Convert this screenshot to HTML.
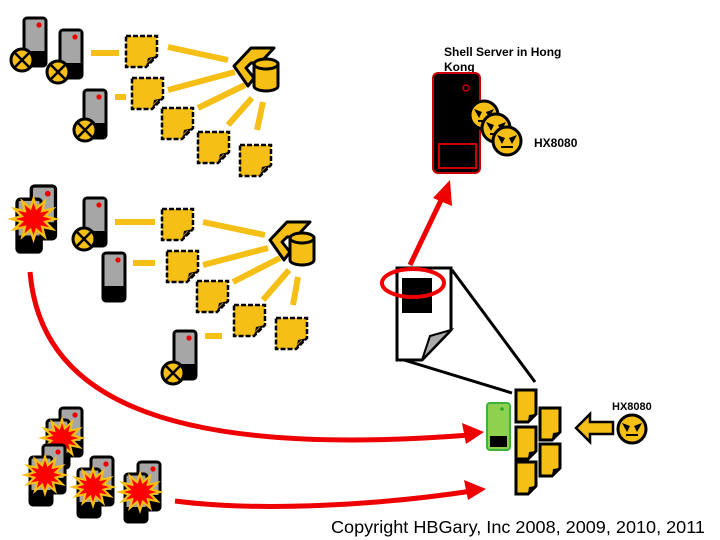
<!DOCTYPE html>
<html><head><meta charset="utf-8"><style>
html,body{margin:0;padding:0;background:#fff}
svg{display:block}
text{font-family:"Liberation Sans",sans-serif}
</style></head><body>
<svg width="720" height="540" viewBox="0 0 720 540" xmlns="http://www.w3.org/2000/svg">
<defs>
<g id="srv">
<rect x="0" y="0" width="22" height="48" rx="3" fill="#a6a6a6" stroke="#000" stroke-width="3"/>
<rect x="1" y="33" width="20" height="14" fill="#000"/>
<circle cx="15" cy="7" r="2.6" fill="#e00"/>
</g>
<g id="xc">
<circle cx="0" cy="0" r="11" fill="#f5bf16" stroke="#000" stroke-width="3"/>
<path d="M-7,-7L7,7M7,-7L-7,7" stroke="#000" stroke-width="2.5"/>
</g>
<g id="doc">
<path d="M0,0H31V20L20,31H0Z" fill="#f5bf16" stroke="#000" stroke-width="2.5" stroke-dasharray="5,2"/>
<path d="M31,20L20,31L22,22Z" fill="#000"/>
<path d="M21,27L26,22" stroke="#b08020" stroke-width="1"/>
</g>
<g id="star">
<polygon fill="#f5bf16" points="20,0 10.6,2.8 17.3,10 7.8,7.8 10,17.3 2.8,10.6 0,20 -2.8,10.6 -10,17.3 -7.8,7.8 -17.3,10 -10.6,2.8 -20,0 -10.6,-2.8 -17.3,-10 -7.8,-7.8 -10,-17.3 -2.8,-10.6 0,-20 2.8,-10.6 10,-17.3 7.8,-7.8 17.3,-10 10.6,-2.8"/>
<polygon fill="#f00" transform="scale(0.68)" points="20,0 10.6,2.8 17.3,10 7.8,7.8 10,17.3 2.8,10.6 0,20 -2.8,10.6 -10,17.3 -7.8,7.8 -17.3,10 -10.6,2.8 -20,0 -10.6,-2.8 -17.3,-10 -7.8,-7.8 -10,-17.3 -2.8,-10.6 0,-20 2.8,-10.6 10,-17.3 7.8,-7.8 17.3,-10 10.6,-2.8"/>
</g>
<g id="boom">
<use href="#srv" x="13" y="0"/>
<use href="#srv" x="0" y="12"/>
<g transform="translate(15,30) scale(1.2,1.1)"><use href="#star"/></g>
</g>
<g id="db">
<path d="M0,18L17,0H40L26,15H17L12,20L20,30L14,38Z" fill="#f5bf16" stroke="#000" stroke-width="3" stroke-linejoin="round"/>
<path d="M20,16V38A12,5 0 0 0 44,38V16Z" fill="#f5bf16" stroke="#000" stroke-width="3"/>
<ellipse cx="32" cy="16" rx="12" ry="5" fill="#f5bf16" stroke="#000" stroke-width="3"/>
</g>
<g id="smile">
<circle cx="0" cy="0" r="14" fill="#f5bf16" stroke="#000" stroke-width="3"/>
<path d="M-10,-6L-2,-3L-5,3Z M10,-6L2,-3L5,3Z" fill="#000"/>
<path d="M-6,6H6" stroke="#000" stroke-width="2"/>
</g>
<g id="ydoc">
<path d="M0,0H20V24L12,32H0Z" fill="#f5bf16" stroke="#000" stroke-width="3"/>
<path d="M20,24L12,32L13,25Z" fill="#000"/>
</g>
</defs>

<g stroke="#f5bf16" stroke-width="6">
<path d="M91,53H119M115,97H126M168,47L228,60M168,90L235,72M198,108L245,85M228,125L252,98M257,130L263,102"/>
<path d="M115,222H155M133,263H155M203,222L265,235M203,265L268,248M233,282L280,258M263,300L289,270M293,305L298,277M205,336H222"/>
</g>
<use href="#srv" x="24" y="18"/><use href="#xc" x="22" y="60"/>
<use href="#srv" x="60" y="30"/><use href="#xc" x="58" y="72"/>
<use href="#srv" x="84" y="90"/><use href="#xc" x="85" y="130"/>
<use href="#doc" x="126" y="36"/><use href="#doc" x="132" y="78"/><use href="#doc" x="162" y="108"/><use href="#doc" x="198" y="132"/><use href="#doc" x="240" y="145"/>
<use href="#db" x="234" y="48"/>

<g transform="translate(17,186) scale(1.1)"><use href="#boom"/></g>
<use href="#srv" x="84" y="198"/><use href="#xc" x="84" y="239"/>
<use href="#srv" x="103" y="253"/>
<use href="#doc" x="162" y="209"/><use href="#doc" x="167" y="251"/><use href="#doc" x="197" y="281"/><use href="#doc" x="234" y="305"/><use href="#doc" x="276" y="318"/>
<use href="#db" x="270" y="222"/>
<use href="#srv" x="174" y="331"/><use href="#xc" x="173" y="373"/>

<use href="#boom" x="47" y="408"/>
<use href="#boom" x="30" y="445"/>
<use href="#boom" x="78" y="457"/>
<use href="#boom" x="125" y="462"/>

<path d="M30,272C40,390 150,460 470,435" fill="none" stroke="#e00" stroke-width="5"/>
<polygon points="484,432 462,423 466,444" fill="#e00"/>
<path d="M175,501C260,512 380,505 472,491" fill="none" stroke="#e00" stroke-width="5"/>
<polygon points="486,489 464,480 468,500" fill="#e00"/>

<text x="444" y="56" font-size="12" font-weight="bold">Shell Server in Hong</text>
<text x="444" y="71" font-size="12" font-weight="bold">Kong</text>
<rect x="433" y="73" width="47" height="100" rx="5" fill="#000" stroke="#c00" stroke-width="2"/>
<circle cx="466" cy="88" r="3" fill="none" stroke="#c00" stroke-width="1.5"/>
<rect x="439" y="144" width="37" height="24" fill="none" stroke="#c00" stroke-width="2"/>
<use href="#smile" x="484" y="115"/><use href="#smile" x="496" y="128"/><use href="#smile" x="507" y="141"/>
<text x="534" y="147" font-size="12" font-weight="bold">HX8080</text>

<path d="M410,265L443,196" stroke="#e00" stroke-width="5"/>
<polygon points="450,180 433,198 452,206" fill="#e00"/>

<path d="M452,270L535,382M404,360L512,393" stroke="#000" stroke-width="3"/>
<path d="M397,268H451V330L422,360H397Z" fill="#fff" stroke="#000" stroke-width="3"/>
<path d="M451,330L422,360L430,336Z" fill="#aaa" stroke="#000" stroke-width="2"/>
<rect x="402" y="278" width="30" height="35" fill="#000"/>
<ellipse cx="413" cy="283" rx="31" ry="14" fill="none" stroke="#e00" stroke-width="4"/>

<rect x="487" y="403" width="23" height="47" rx="3" fill="#8fd14f" stroke="#3cb43c" stroke-width="2"/>
<rect x="490" y="436" width="17" height="11" fill="#000"/>
<circle cx="502" cy="409" r="1.8" fill="#2a2"/>
<use href="#ydoc" x="516" y="390"/><use href="#ydoc" x="516" y="427"/><use href="#ydoc" x="516" y="462"/>
<use href="#ydoc" x="540" y="408"/><use href="#ydoc" x="540" y="444"/>
<polygon points="576,428 590,414 590,422 613,422 613,434 590,434 590,442" fill="#f5bf16" stroke="#000" stroke-width="2.5"/>
<use href="#smile" x="632" y="429"/>
<text x="612" y="410" font-size="11" font-weight="bold">HX8080</text>

<text x="331" y="533" font-size="17.5" textLength="374" lengthAdjust="spacingAndGlyphs">Copyright HBGary, Inc 2008, 2009, 2010, 2011</text>
</svg>
</body></html>
